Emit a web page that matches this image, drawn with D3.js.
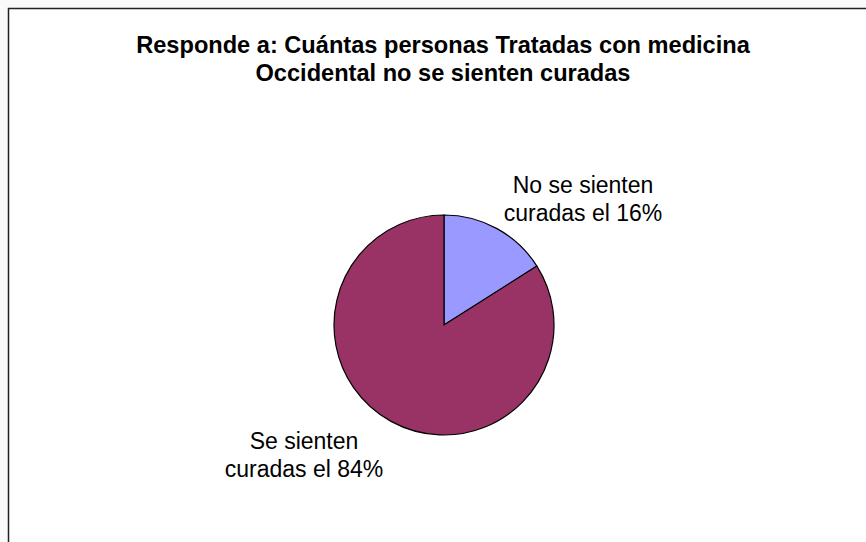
<!DOCTYPE html>
<html>
<head>
<meta charset="utf-8">
<script src="https://cdn.jsdelivr.net/npm/d3@7"></script>
<style>
  html, body { margin: 0; padding: 0; background: #fafafa; }
  svg { display: block; }
</style>
</head>
<body>
<svg id="chart" width="866" height="542"></svg>
<script>
// Survey answers (percent of people treated with Western medicine)
const categories = ["No se sienten curadas", "Se sienten curadas"];
const values = [16, 84];
const labelLines = [
  ["No se sienten", "curadas el 16%"],
  ["Se sienten", "curadas el 84%"]
];
const titleLines = [
  "Responde a: Cuántas personas Tratadas con medicina",
  "Occidental no se sienten curadas"
];
const colors = ["#9999FF", "#993366"];

const svg = d3.select("#chart");
const font = "'Liberation Sans', Arial, sans-serif";

// Chart area with a thin dark frame
svg.append("rect")
  .attr("x", 8.5).attr("y", 8.5)
  .attr("width", 900).attr("height", 600)
  .attr("fill", "#ffffff")
  .attr("stroke", "#222").attr("stroke-width", 1.5);

// Title
svg.append("g").selectAll("text")
  .data(titleLines)
  .join("text")
  .attr("x", 443)
  .attr("y", (d, i) => 53 + i * 28)
  .attr("text-anchor", "middle")
  .attr("font-family", font)
  .attr("font-weight", "bold")
  .attr("font-size", 23.6)
  .attr("fill", "#000")
  .text(d => d);

// Pie
const cx = 444, cy = 325, r = 110;
const pie = d3.pie().sort(null).value(d => d)(values);
const arc = d3.arc().innerRadius(0).outerRadius(r);

const g = svg.append("g").attr("transform", `translate(${cx},${cy})`);
g.selectAll("path")
  .data(pie)
  .join("path")
  .attr("d", arc)
  .attr("fill", (d, i) => colors[i])
  .attr("stroke", "#000")
  .attr("stroke-width", 1.2);

// Slice labels placed outside the pie
const labelPos = [[583, 193], [304, 449]];
labelLines.forEach((lines, i) => {
  svg.append("text")
    .attr("x", labelPos[i][0])
    .attr("y", labelPos[i][1])
    .attr("text-anchor", "middle")
    .attr("font-family", font)
    .attr("font-size", 23)
    .attr("fill", "#000")
    .selectAll("tspan")
    .data(lines)
    .join("tspan")
    .attr("x", labelPos[i][0])
    .attr("dy", (d, j) => j === 0 ? 0 : 28)
    .text(d => d);
});
</script>
</body>
</html>
